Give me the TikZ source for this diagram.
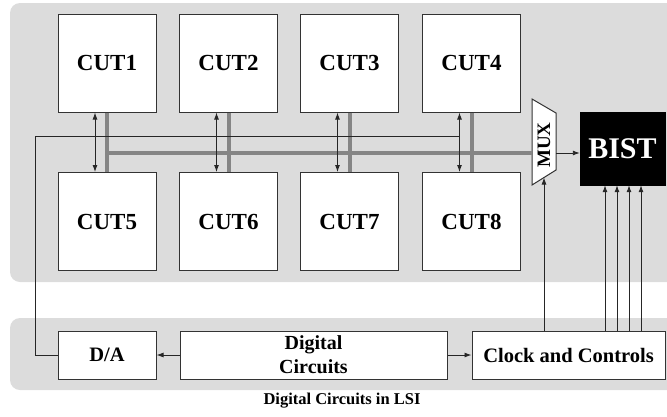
\documentclass[tikz,border=0pt]{standalone}
\usepackage{fontspec}
\setmainfont{Liberation Serif}
\usetikzlibrary{arrows.meta,calc}

\definecolor{panelgray}{HTML}{DCDCDC}
\definecolor{busgray}{HTML}{858585}
\definecolor{edge}{HTML}{333333}

\tikzset{
  panel/.style={fill=panelgray, draw=none, rounded corners=10pt},
  cut/.style={draw=edge, line width=1pt, fill=white, minimum width=98pt, minimum height=98pt,
    inner sep=0pt, font=\fontsize{23}{26}\selectfont\bfseries},
  lowbox/.style={draw=edge, line width=1pt, fill=white, minimum height=48pt, inner sep=0pt,
    font=\fontsize{20.5}{24}\selectfont\bfseries, align=center},
  bus/.style={busgray, line width=4pt},
  wire/.style={draw=black!85, line width=0.9pt},
  tip/.style={-{Latex[length=7pt,width=5pt]}},
  bitip/.style={{Latex[length=7pt,width=5pt]}-{Latex[length=7pt,width=5pt]}},
}

\begin{document}
\begin{tikzpicture}[x=1pt, y=-1pt]
\useasboundingbox (0,0) rectangle (667,416);

% background panels
\begin{scope}
  \clip (0,0) rectangle (667,416);
  \path[panel] (10,3) rectangle (690,282);
  \path[panel] (10,318) rectangle (690,390);
\end{scope}

% circuits under test
\node[cut] (c1) at (107,63) {CUT1};
\node[cut] (c2) at (228.5,63) {CUT2};
\node[cut] (c3) at (349.5,63) {CUT3};
\node[cut] (c4) at (471.5,63) {CUT4};
\node[cut] (c5) at (107,221.5) {CUT5};
\node[cut] (c6) at (228.5,221.5) {CUT6};
\node[cut] (c7) at (349.5,221.5) {CUT7};
\node[cut] (c8) at (471.5,221.5) {CUT8};

% multiplexer
\coordinate (mtl) at (532,99);
\coordinate (mbl) at (532,185);
\coordinate (mtr) at (556,113);
\coordinate (mbr) at (556,170);
\draw[draw=edge, line width=1pt, fill=white] (mtl) -- (mtr) -- (mbr) -- (mbl) -- cycle;
\node[rotate=90, font=\fontsize{19}{22}\selectfont\bfseries, inner sep=0pt] (mux) at (544,145) {MUX};
\coordinate (muxin) at (532,153);
\coordinate (muxout) at (556,153);
\coordinate (muxsel) at (544,177.5);

% BIST block
\node[fill=black, draw=black, minimum width=85pt, minimum height=73pt, inner sep=0pt,
  text=white, font=\fontsize{30}{34}\selectfont\bfseries] (bist) at (622.5,148.5) {BIST};

% lower blocks
\node[lowbox, minimum width=98pt] (da) at (107,355) {D/A};
\node[lowbox, minimum width=267pt, font=\fontsize{20}{24}\selectfont\bfseries] (dig) at (313.5,355) {Digital\\Circuits};
\node[lowbox, minimum width=193pt] (clk) at (568.5,355) {Clock and Controls};

% caption
\node[font=\fontsize{16.5}{19}\selectfont\bfseries] (cap) at (342,401) {Digital Circuits in LSI};

% grey response bus
\coordinate (busL) at (107,153);
\foreach \i/\j in {c1/c5,c2/c6,c3/c7,c4/c8} \draw[bus] (\i.south) -- (\j.north);
\draw[bus] (busL) -- (muxin);

% analog stimulus line from D/A
\coordinate (stimL) at (35,136);
\coordinate (stimR) at (459,136);
\coordinate (stimB) at (35,355);
\draw[wire] (da.west) -- (stimB) -- (stimL) -- (stimR);

% bidirectional links between rows
\foreach \i/\j in {c1/c5,c2/c6,c3/c7,c4/c8}
  \draw[wire, bitip] ([xshift=-12pt]\i.south) -- ([xshift=-12pt]\j.north);

% control and data arrows
\draw[wire, tip] (muxout) -- (bist.west |- muxout);
\draw[wire, tip] (clk.north -| muxsel) -- (muxsel);
\foreach \x in {605,617,629,641}
  \draw[wire, tip] (clk.north -| \x,0) -- (bist.south -| \x,0);
\draw[wire, tip] (dig.west) -- (da.east);
\draw[wire, tip] (dig.east) -- (clk.west);
\end{tikzpicture}
\end{document}
